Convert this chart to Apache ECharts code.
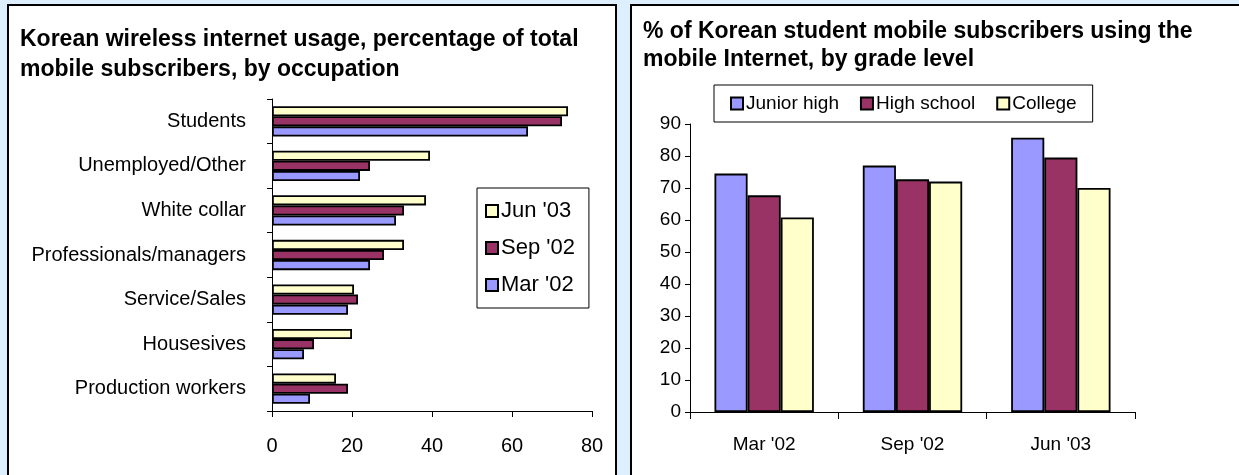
<!DOCTYPE html>
<html>
<head>
<meta charset="utf-8">
<script src="https://cdn.jsdelivr.net/npm/echarts@6.0.0/dist/echarts.min.js"></script>
<style>
  html, body { margin: 0; padding: 0; background: #ddeeff; }
  #main { width: 1239px; height: 475px; }
</style>
</head>
<body>
<div id="main"></div>
<script>
// left chart: occupation (bottom -> top, as the axis draws them)
const occupations = ['Production workers', 'Housesives', 'Service/Sales', 'Professionals/managers', 'White collar', 'Unemployed/Other', 'Students']
const jun03 = [16, 20, 20.5, 33, 38.5, 39.5, 74]
const sep02 = [19, 10.5, 21.5, 28, 33, 24.5, 72.5]
const mar02 = [9.5, 8, 19, 24.5, 31, 22, 64]
const occTicks = [0, 20, 40, 60, 80]

// right chart: students by grade level
const periods = ['Mar \'02', 'Sep \'02', 'Jun \'03']
const juniorHigh = [74.5, 77, 85.7]
const highSchool = [67.7, 72.7, 79.5]
const college = [60.8, 72, 70]
const gradeTicks = [0, 10, 20, 30, 40, 50, 60, 70, 80, 90]

const FONT = 'Liberation Sans, Arial, sans-serif'
const BLUE = '#9999ff'
const MAROON = '#993366'
const YELLOW = '#ffffcc'

const chart = echarts.init(document.getElementById('main'))

const barStyle = (color) => ({ color, borderColor: '#000', borderWidth: 1.8 })

const axisText = { color: '#000', fontFamily: FONT, fontSize: 19 }
const leftText = { ...axisText, fontSize: 20 }

let option = {
  backgroundColor: '#ddeeff',
  animation: false,
  graphic: [
    { type: 'rect', shape: { x: 8, y: 5, width: 608, height: 490 }, style: { fill: '#fff', stroke: '#000', lineWidth: 2 }, z: -10 },
    { type: 'rect', shape: { x: 631, y: 5, width: 640, height: 490 }, style: { fill: '#fff', stroke: '#000', lineWidth: 2 }, z: -10 }
  ],
  title: [
    {
      text: 'Korean wireless internet usage, percentage of total\nmobile subscribers, by occupation',
      left: 20, top: 25, padding: 0,
      textStyle: { fontFamily: FONT, fontWeight: 'bold', fontSize: 23, lineHeight: 30, color: '#000' }
    },
    {
      text: '% of Korean student mobile subscribers using the\nmobile Internet, by grade level',
      left: 643, top: 18, padding: 0,
      textStyle: { fontFamily: FONT, fontWeight: 'bold', fontSize: 23, lineHeight: 28, color: '#000' }
    }
  ],
  legend: [
    {
      data: ['Jun \'03', 'Sep \'02', 'Mar \'02'],
      orient: 'vertical',
      left: 477, top: 188,
      padding: [12, 14, 12, 8],
      itemGap: 15,
      itemWidth: 12, itemHeight: 12,
      icon: 'rect',
      borderColor: '#000', borderWidth: 1,
      backgroundColor: '#fff',
      textStyle: { ...axisText, fontSize: 22, padding: [0, 0, 0, -2] }
    },
    {
      data: ['Junior high', 'High school', 'College'],
      orient: 'horizontal',
      left: 714, top: 85,
      padding: [9, 16, 9, 16],
      itemGap: 21,
      itemWidth: 12, itemHeight: 12,
      icon: 'rect',
      borderColor: '#000', borderWidth: 1,
      backgroundColor: '#fff',
      textStyle: { ...axisText, padding: [0, 0, 0, -2] }
    }
  ],
  grid: [
    { left: 272, right: 647, top: 99, bottom: 64 },
    { left: 690, right: 104, top: 124, bottom: 63 }
  ],
  xAxis: [
    {
      gridIndex: 0,
      type: 'value',
      min: occTicks[0], max: occTicks[occTicks.length - 1], interval: 20,
      splitLine: { show: false },
      axisLine: { show: true, lineStyle: { color: '#000', width: 1 } },
      axisTick: { show: true, length: 6, lineStyle: { color: '#000' } },
      axisLabel: { ...leftText, margin: 25 }
    },
    {
      gridIndex: 1,
      type: 'category',
      data: periods,
      axisLine: { lineStyle: { color: '#000', width: 1 } },
      axisTick: { show: true, length: 7, lineStyle: { color: '#000' } },
      axisLabel: { ...axisText, margin: 23 }
    }
  ],
  yAxis: [
    {
      gridIndex: 0,
      type: 'category',
      data: occupations,
      axisLine: { lineStyle: { color: '#000', width: 1 } },
      axisTick: { show: true, length: 5, lineStyle: { color: '#000' } },
      axisLabel: { ...leftText, margin: 26 }
    },
    {
      gridIndex: 1,
      type: 'value',
      min: gradeTicks[0], max: gradeTicks[gradeTicks.length - 1], interval: 10,
      splitLine: { show: false },
      axisLine: { show: true, lineStyle: { color: '#000', width: 1 } },
      axisTick: { show: true, length: 5, lineStyle: { color: '#000' } },
      axisLabel: { ...axisText, margin: 9 }
    }
  ],
  series: [
    { name: 'Jun \'03', type: 'bar', xAxisIndex: 0, yAxisIndex: 0, data: jun03, itemStyle: barStyle(YELLOW), barGap: 0, barCategoryGap: '32%' },
    { name: 'Sep \'02', type: 'bar', xAxisIndex: 0, yAxisIndex: 0, data: sep02, itemStyle: barStyle(MAROON), barGap: 0, barCategoryGap: '32%' },
    { name: 'Mar \'02', type: 'bar', xAxisIndex: 0, yAxisIndex: 0, data: mar02, itemStyle: barStyle(BLUE), barGap: 0, barCategoryGap: '32%' },
    { name: 'Junior high', type: 'bar', xAxisIndex: 1, yAxisIndex: 1, data: juniorHigh, itemStyle: barStyle(BLUE), barGap: 0, barCategoryGap: '33%' },
    { name: 'High school', type: 'bar', xAxisIndex: 1, yAxisIndex: 1, data: highSchool, itemStyle: barStyle(MAROON), barGap: 0, barCategoryGap: '33%' },
    { name: 'College', type: 'bar', xAxisIndex: 1, yAxisIndex: 1, data: college, itemStyle: barStyle(YELLOW), barGap: 0, barCategoryGap: '33%' }
  ]
}

chart.setOption(option)
</script>
</body>
</html>
